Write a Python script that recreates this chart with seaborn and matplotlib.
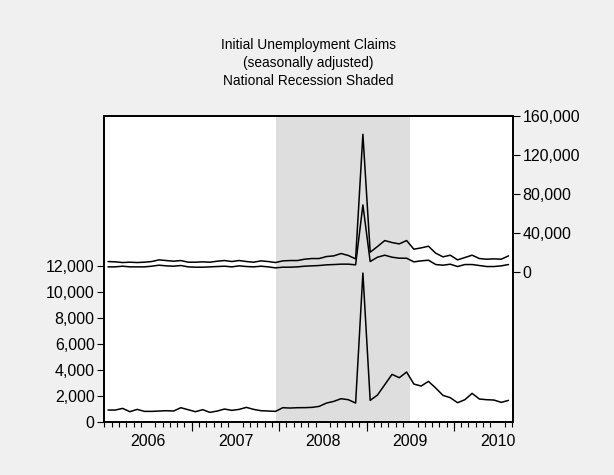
import numpy as np
import pandas as pd
import matplotlib
matplotlib.use("Agg")
from matplotlib import pyplot as plt
from matplotlib.ticker import FuncFormatter
import seaborn as sns

# monthly initial claims, Jan 2006 - Aug 2010
claims_left = [897, 897, 1025, 769, 948, 795, 795, 820, 846, 820,
               1077, 923, 769, 923, 718, 820, 974, 872, 948, 1102,
               948, 846, 820, 795, 1077, 1051, 1077, 1080, 1102, 1179,
               1435, 1564, 1769, 1692, 1435, 11435, 1641, 2051, 2845, 3640,
               3384, 3820, 2897, 2743, 3102, 2589, 2025, 1846, 1461, 1692,
               2179, 1743, 1692, 1666, 1487, 1641]
claims_mid = [4820, 4820, 5500, 4820, 4820, 4820, 5500, 6530, 5850, 5500,
              6190, 4820, 4480, 4480, 4820, 5160, 5500, 4820, 5850, 5160,
              4820, 5500, 4820, 3790, 4480, 4480, 4820, 5500, 5850, 6200,
              6900, 7200, 7600, 7600, 6900, 68400, 10290, 14740, 16790, 14740,
              13710, 13710, 9950, 10970, 11660, 7210, 6530, 7560, 5160, 7210,
              7210, 6190, 5160, 5160, 5850, 7210]
claims_top = [10290, 9950, 9260, 9610, 9260, 9610, 10290, 12000, 11310, 10630,
              11310, 9610, 9610, 9950, 9610, 10630, 11310, 10290, 11310, 10290,
              9610, 10970, 10290, 9260, 10970, 11310, 11310, 12680, 13370, 13370,
              15420, 16100, 18500, 16500, 13000, 140900, 19860, 25670, 31830, 29780,
              28410, 31830, 22940, 24310, 26020, 18840, 15080, 16790, 12000, 14390,
              16790, 13360, 12680, 13030, 12680, 16100]
years = ["2006", "2007", "2008", "2009", "2010"]
left_ticks = [0, 2000, 4000, 6000, 8000, 10000, 12000]
right_ticks = [0, 40000, 80000, 120000, 160000]
recession = (23.6, 41.9)  # Dec 2007 - Jun 2009, in months from Jan 2006

df = pd.DataFrame({
    "month": np.arange(len(claims_left)) + 0.5,
    "left": claims_left,
    "mid": claims_mid,
    "top": claims_top,
})

sns.set_theme(style="ticks")
plt.rcParams["font.family"] = ["Liberation Sans", "DejaVu Sans"]
plt.rcParams["text.color"] = "black"
plt.rcParams["xtick.color"] = "black"
plt.rcParams["ytick.color"] = "black"
plt.rcParams["xtick.labelcolor"] = "black"
plt.rcParams["ytick.labelcolor"] = "black"

fig = plt.figure(figsize=(6.14, 4.75), dpi=100, facecolor="#f0f0f0")
ax = fig.add_axes([0.170, 0.1122, 0.665, 0.6442])
ax.set_facecolor("white")
ax2 = ax.twinx()

ax.axvspan(recession[0], recession[1], color="#dedede", lw=0, zorder=0)

sns.lineplot(data=df, x="month", y="left", ax=ax, color="black", lw=1.1)
sns.lineplot(data=df, x="month", y="mid", ax=ax2, color="black", lw=1.1)
sns.lineplot(data=df, x="month", y="top", ax=ax2, color="black", lw=1.1)

# left scale only covers lower part, right scale the upper part
ax.set_ylim(0, 23538)
ax2.set_ylim(-154150, 160000)
ax.set_xlim(0, 56.07)

comma = FuncFormatter(lambda v, p: f"{int(v):,}")
ax.set_yticks(left_ticks)
ax.yaxis.set_major_formatter(comma)
ax2.set_yticks(right_ticks)
ax2.yaxis.set_major_formatter(comma)

# year labels at mid-year, monthly minor ticks, year boundary ticks longer
ax.set_xticks([12 * k + 6 for k in range(len(years))])
ax.set_xticklabels(years)
ax.set_xticks(np.arange(0, 57), minor=True)
ax.tick_params(axis="x", which="major", length=0, pad=9, labelsize=11.5)
ax.tick_params(axis="x", which="minor", length=3.5, width=0.8, color="black")
sec = ax.secondary_xaxis("bottom")
sec.set_xticks([12 * k for k in range(1, len(years))])
sec.set_xticklabels([])
sec.tick_params(length=6.5, width=0.8, color="black")
sec.spines["bottom"].set_visible(False)

ax.tick_params(axis="y", length=5, width=0.8, color="black", labelsize=11.5, pad=2)
ax2.tick_params(axis="y", length=5, width=0.8, color="black", labelsize=11.5, pad=2)

for a in (ax, ax2):
    a.set_xlabel("")
    a.set_ylabel("")
    for s in a.spines.values():
        s.set_color("black")
        s.set_linewidth(1.3)

fig.text(0.5026, 0.905, "Initial Unemployment Claims", ha="center", va="center", fontsize=9.9)
fig.text(0.5026, 0.867, "(seasonally adjusted)", ha="center", va="center", fontsize=9.9)
fig.text(0.5026, 0.829, "National Recession Shaded", ha="center", va="center", fontsize=9.9)

fig.savefig("out.png", dpi=100, facecolor=fig.get_facecolor())
